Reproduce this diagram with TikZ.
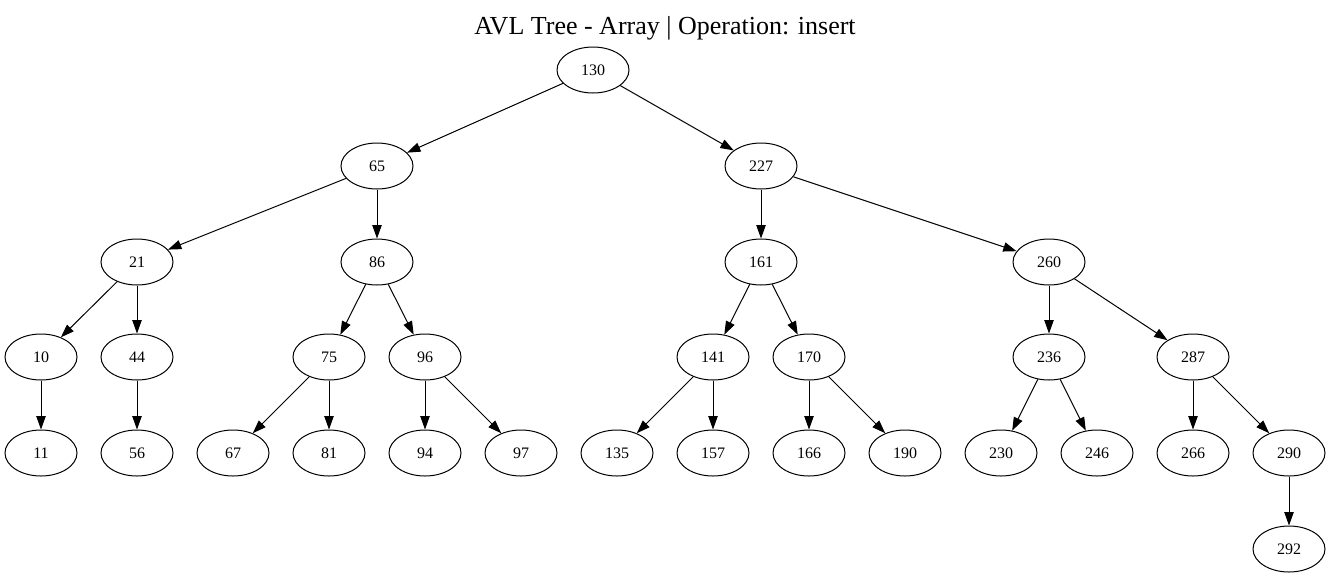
\documentclass[tikz,border=0pt]{standalone}
\usepackage{fontspec}
\setmainfont{Liberation Serif}
\usetikzlibrary{shapes.geometric,arrows.meta}
\begin{document}
\begin{tikzpicture}[x=0.75pt,y=-0.75pt,
  tn/.style={ellipse,draw,line width=0.75pt,minimum width=54pt,minimum height=34.5pt,inner sep=0pt,font=\fontsize{12}{14}\selectfont},
  ed/.style={line width=0.75pt,-{Triangle[length=10pt,width=7pt]}}]
\useasboundingbox (0,0) rectangle (1331,579);
\node[font=\fontsize{19.5}{22}\selectfont] (title) at (665,28) {AVL Tree - Array | Operation: insert};
\node[tn] (n130) at (593,70) {130};
\node[tn] (n65) at (377,166) {65};
\node[tn] (n227) at (761,166) {227};
\node[tn] (n21) at (137,262) {21};
\node[tn] (n86) at (377,262) {86};
\node[tn] (n161) at (761,262) {161};
\node[tn] (n260) at (1049,262) {260};
\node[tn] (n10) at (41,357) {10};
\node[tn] (n44) at (137,357) {44};
\node[tn] (n75) at (329,357) {75};
\node[tn] (n96) at (425,357) {96};
\node[tn] (n141) at (713,357) {141};
\node[tn] (n170) at (809,357) {170};
\node[tn] (n236) at (1049,357) {236};
\node[tn] (n287) at (1193,357) {287};
\node[tn] (n11) at (41,453) {11};
\node[tn] (n56) at (137,453) {56};
\node[tn] (n67) at (233,453) {67};
\node[tn] (n81) at (329,453) {81};
\node[tn] (n94) at (425,453) {94};
\node[tn] (n97) at (521,453) {97};
\node[tn] (n135) at (617,453) {135};
\node[tn] (n157) at (713,453) {157};
\node[tn] (n166) at (809,453) {166};
\node[tn] (n190) at (905,453) {190};
\node[tn] (n230) at (1001,453) {230};
\node[tn] (n246) at (1097,453) {246};
\node[tn] (n266) at (1193,453) {266};
\node[tn] (n290) at (1289,453) {290};
\node[tn] (n292) at (1289,549) {292};
\foreach \a/\b in {n130/n65,n130/n227,n65/n21,n65/n86,n227/n161,n227/n260,
  n21/n10,n21/n44,n86/n75,n86/n96,n161/n141,n161/n170,n260/n236,n260/n287,
  n10/n11,n44/n56,n75/n67,n75/n81,n96/n94,n96/n97,n141/n135,n141/n157,
  n170/n166,n170/n190,n236/n230,n236/n246,n287/n266,n287/n290,n290/n292}
  \draw[ed] (\a) -- (\b);
\end{tikzpicture}
\end{document}
